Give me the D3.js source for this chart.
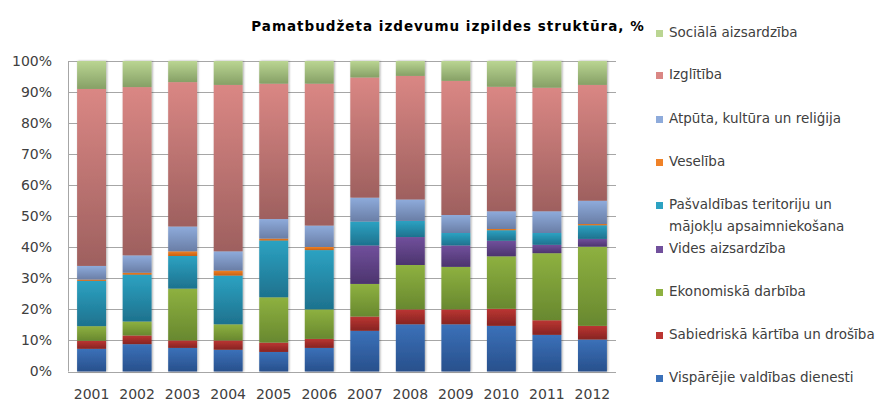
<!DOCTYPE html>
<html>
<head>
<meta charset="utf-8">
<script src="https://cdn.jsdelivr.net/npm/d3@7"></script>
<style>
  html, body { margin: 0; padding: 0; background: #fff; }
  svg { display: block; }
  text { font-family: "DejaVu Sans", Verdana, sans-serif; }
</style>
</head>
<body>
<div id="chart"></div>
<script>
// Years along the x axis
const years = ["2001","2002","2003","2004","2005","2006","2007","2008","2009","2010","2011","2012"];

// Share of the basic budget by function, % (bottom of stack first)
const vispValdDienesti   = [7.3, 8.8, 7.6, 7.0, 6.3, 7.6, 13.1, 15.2, 15.2, 14.7, 11.8, 10.3];
const sabKartiba         = [2.6, 2.8, 2.4, 3.0, 3.0, 2.9, 4.6, 4.8, 4.8, 5.5, 4.7, 4.4];
const ekonDarbiba        = [4.7, 4.5, 16.7, 5.2, 14.6, 9.5, 10.5, 14.3, 13.7, 16.9, 21.6, 25.5];
const videsAizsardziba   = [0, 0, 0, 0, 0, 0, 12.4, 9.0, 6.9, 5.0, 2.7, 2.5];
const pasvaldibasTerit   = [14.6, 15.1, 10.5, 15.7, 18.3, 19.1, 7.7, 5.2, 4.0, 3.4, 3.8, 4.4];
const veseliba           = [0.4, 0.6, 1.5, 1.6, 0.6, 1.0, 0, 0, 0, 0.4, 0, 0.4];
const atputaKultura      = [4.4, 5.6, 8.0, 6.2, 6.3, 6.9, 7.7, 6.9, 5.8, 5.7, 7.0, 7.5];
const izglitiba          = [57.0, 54.2, 46.5, 53.6, 43.6, 45.7, 38.7, 39.8, 43.2, 40.1, 39.8, 37.3];
const socAizsardziba     = [9.0, 8.4, 6.8, 7.7, 7.3, 7.3, 5.3, 4.8, 6.4, 8.3, 8.6, 7.7];

const seriesNames = [
  "Vispārējie valdības dienesti",
  "Sabiedriskā kārtība un drošība",
  "Ekonomiskā darbība",
  "Vides aizsardzība",
  "Pašvaldības teritoriju un mājokļu apsaimniekošana",
  "Veselība",
  "Atpūta, kultūra un reliģija",
  "Izglītība",
  "Sociālā aizsardzība"
];
const seriesValues = [vispValdDienesti, sabKartiba, ekonDarbiba, videsAizsardziba,
  pasvaldibasTerit, veseliba, atputaKultura, izglitiba, socAizsardziba];

const yTicks = [0, 10, 20, 30, 40, 50, 60, 70, 80, 90, 100];

// Gradient stops per series: [top colour, bottom colour]
const seriesColors = [
  ["#3b71b9", "#28508c"],
  ["#bb3532", "#862422"],
  ["#8eb140", "#68882f"],
  ["#71509c", "#4c346e"],
  ["#2ca2c2", "#1e728e"],
  ["#f08228", "#c86010"],
  ["#8eabdb", "#6a7ea6"],
  ["#da8784", "#9e605f"],
  ["#bad592", "#86a066"]
];

const W = 877, H = 403;
const svg = d3.select("#chart").append("svg").attr("width", W).attr("height", H);

const rows = years.map((y, i) => {
  const r = { year: y };
  seriesNames.forEach((n, k) => r[n] = seriesValues[k][i]);
  return r;
});
const stacked = d3.stack().keys(seriesNames)(rows);

const plot = { left: 68, right: 616, top: 61, bottom: 371.5 };
const x = d3.scaleBand().domain(years).range([plot.left, plot.right])
  .paddingInner(0.365).paddingOuter(0.2);
const y = d3.scaleLinear().domain([0, 100]).range([plot.bottom, plot.top]);

const defs = svg.append("defs");
seriesColors.forEach((c, k) => {
  const g = defs.append("linearGradient").attr("id", "grad" + k)
    .attr("x1", 0).attr("y1", 0).attr("x2", 0).attr("y2", 1);
  g.append("stop").attr("offset", "0%").attr("stop-color", c[0]);
  g.append("stop").attr("offset", "100%").attr("stop-color", c[1]);
});
const shadow = defs.append("filter").attr("id", "barShadow")
  .attr("x", "-30%").attr("y", "-5%").attr("width", "160%").attr("height", "110%");
shadow.append("feDropShadow").attr("dx", 1).attr("dy", 0).attr("stdDeviation", 1.3)
  .attr("flood-color", "#000").attr("flood-opacity", 0.35);

// Horizontal gridlines
svg.append("g").selectAll("line").data(yTicks).join("line")
  .attr("x1", plot.left).attr("x2", plot.right)
  .attr("y1", d => Math.round(y(d)) + 0.5).attr("y2", d => Math.round(y(d)) + 0.5)
  .attr("stroke", "#a6a6a6").attr("stroke-width", 1);

// Left axis line
svg.append("line")
  .attr("x1", plot.left + 0.5).attr("x2", plot.left + 0.5)
  .attr("y1", plot.top).attr("y2", plot.bottom)
  .attr("stroke", "#a6a6a6");

// Y tick labels
const yAxis = d3.axisLeft(y).tickValues(yTicks).tickFormat(d => d + "%").tickSize(0).tickPadding(0);
const ya = svg.append("g").attr("transform", `translate(52,0)`).call(yAxis);
ya.select(".domain").remove();
ya.selectAll("text").attr("font-size", 14).attr("fill", "#404040")
  .attr("font-family", "'DejaVu Sans', Verdana, sans-serif");

// X tick labels
const xAxis = d3.axisBottom(x).tickSize(0).tickPadding(0);
const xa = svg.append("g").attr("transform", `translate(0,389)`).call(xAxis);
xa.select(".domain").remove();
xa.selectAll("text").attr("font-size", 14).attr("fill", "#404040")
  .attr("font-family", "'DejaVu Sans', Verdana, sans-serif");

// Stacked bars
const barsG = svg.append("g");
stacked.forEach((s, k) => {
  barsG.append("g").selectAll("rect").data(s.filter(d => d[1] - d[0] > 0)).join("rect")
    .attr("x", d => x(d.data.year))
    .attr("width", x.bandwidth())
    .attr("y", d => y(d[1]))
    .attr("height", d => y(d[0]) - y(d[1]))
    .attr("fill", `url(#grad${k})`);
});
barsG.attr("filter", "url(#barShadow)");

// Title
svg.append("text").attr("x", 448).attr("y", 31).attr("text-anchor", "middle")
  .attr("font-size", 13.5).attr("font-weight", "bold").attr("letter-spacing", 1)
  .attr("fill", "#000")
  .text("Pamatbudžeta izdevumu izpildes struktūra, %");

// Legend (top = last series)
const legendItems = [
  { k: 8, lines: ["Sociālā aizsardzība"], y: 32 },
  { k: 7, lines: ["Izglītība"], y: 74 },
  { k: 6, lines: ["Atpūta, kultūra un reliģija"], y: 118 },
  { k: 5, lines: ["Veselība"], y: 161 },
  { k: 4, lines: ["Pašvaldības teritoriju un", "mājokļu apsaimniekošana"], y: 204 },
  { k: 3, lines: ["Vides aizsardzība"], y: 248 },
  { k: 2, lines: ["Ekonomiskā darbība"], y: 291 },
  { k: 1, lines: ["Sabiedriskā kārtība un drošība"], y: 334 },
  { k: 0, lines: ["Vispārējie valdības dienesti"], y: 377 }
];
const lg = svg.append("g");
legendItems.forEach(it => {
  lg.append("rect").attr("x", 656).attr("y", it.y - 2).attr("width", 7).attr("height", 7)
    .attr("fill", seriesColors[it.k][0]);
  it.lines.forEach((ln, j) => {
    lg.append("text").attr("x", 669).attr("y", it.y + 5 + j * 22)
      .attr("font-size", 13.5).attr("fill", "#404040").text(ln);
  });
});
</script>
</body>
</html>
